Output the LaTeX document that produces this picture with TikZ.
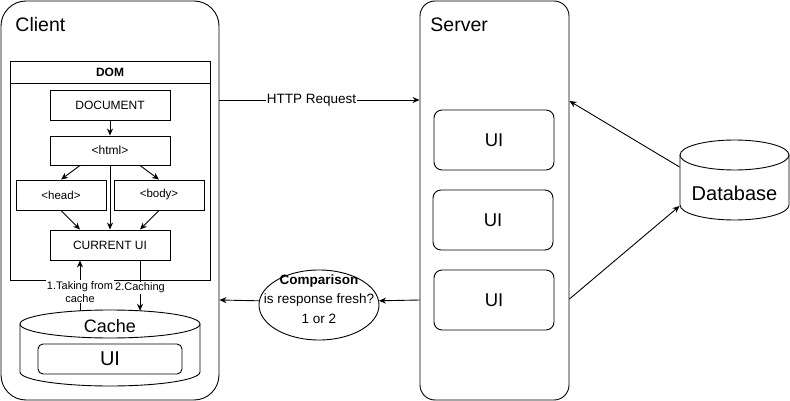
\documentclass[tikz,border=0pt]{standalone}
\usepackage{fontspec}
\setmainfont{Liberation Sans}
\usetikzlibrary{arrows.meta,shapes.geometric}
\tikzset{
  box/.style={draw, rectangle, minimum width=120pt, minimum height=30pt, inner sep=0pt, font=\fontsize{12}{14}\selectfont},
  tagbox/.style={box, minimum width=90pt, font=\fontsize{11.5}{14}\selectfont},
  uibox/.style={draw, rectangle, rounded corners=8pt, minimum width=120pt, minimum height=60pt, inner sep=0pt, font=\fontsize{18.5}{20}\selectfont},
  title/.style={anchor=west, inner sep=0pt, font=\fontsize{19.5}{22}\selectfont},
  arr/.style={-{Stealth[length=7pt,width=6pt]}},
  lbl/.style={fill=white, inner sep=1pt, font=\fontsize{11}{13}\selectfont, align=center},
}
\begin{document}
\begin{tikzpicture}[x=1pt,y=-1pt,line width=0.9pt]
\useasboundingbox (0,0) rectangle (790,401);
% client
\node[draw, rounded corners=25pt, minimum width=218pt, minimum height=399pt] (client) at (110,200.5) {};
\node[title] (clientlbl) at (15,25) {Client};
\node[draw, minimum width=200pt, minimum height=219pt] (dom) at (110,170.5) {};
\node[draw, minimum width=200pt, minimum height=22pt, font=\bfseries\fontsize{12}{14}\selectfont] (domhead) at (110,72) {DOM};
\node[box] (doc) at (110,105) {DOCUMENT};
\node[box, minimum height=29pt] (html) at (110,150.5) {<html>};
\node[tagbox] (head) at (61,195) {<head>};
\node[tagbox] (body) at (159,195) {<body>};
\node[box] (cur) at (110,245) {CURRENT UI};
\draw[arr] (doc) -- (html);
\draw[arr] ([xshift=-30pt]html.south) -- (head.north);
\draw[arr] ([xshift=30pt]html.south) -- (body.north);
\draw[arr] (html) -- (cur);
\draw[arr] (head.south) -- ([xshift=-30pt]cur.north);
\draw[arr] (body.south) -- ([xshift=30pt]cur.north);
% cache
\draw (20,324) -- (20,372) arc[start angle=180, end angle=360, x radius=90pt, y radius=14pt] -- (200,324);
\draw (110,324) ellipse [x radius=90pt, y radius=14pt];
\node[inner sep=0pt, font=\fontsize{18}{20}\selectfont] (cache) at (110,326) {Cache};
\coordinate (cachetop) at (110,310.8);
\node[uibox, rounded corners=5pt, minimum width=144pt, minimum height=30pt, font=\fontsize{20}{22}\selectfont] (cacheui) at (110,359) {UI};
\draw[arr] ([xshift=-30pt]cachetop) -- node[lbl, pos=0.38] {1.Taking from\\cache} ([xshift=-30pt]cur.south);
\draw[arr] ([xshift=30pt]cur.south) -- node[lbl, pos=0.55] {2.Caching} ([xshift=30pt]cachetop);
% server
\node[draw, rounded corners=15pt, minimum width=149pt, minimum height=399pt] (server) at (494.5,200.5) {};
\node[title] (serverlbl) at (430,25) {Server};
\node[uibox] (ui1) at (494,140) {UI};
\node[uibox] (ui2) at (493,220) {UI};
\node[uibox] (ui3) at (494,300) {UI};
% database
\draw (680,155) -- (680,205) arc[start angle=180, end angle=360, x radius=54.5pt, y radius=15pt] -- (789,155);
\draw (734.5,155) ellipse [x radius=54.5pt, y radius=15pt];
\node[minimum width=109pt, minimum height=54pt, inner sep=0pt, font=\fontsize{20}{22}\selectfont] (db) at (734.5,193) {Database};
% requests
\draw[arr] ([yshift=100.5pt]client.east) -- node[fill=white, inner sep=1pt, pos=0.46, font=\fontsize{13.5}{15}\selectfont] {HTTP Request} ([yshift=100.5pt]server.west);
\draw[arr] ([yshift=26pt]db.west) -- ([yshift=99.5pt]server.east);
\draw[arr] ([yshift=-98.5pt]server.east) -- ([yshift=-13pt]db.west);
\node[draw, ellipse, minimum width=120pt, minimum height=70pt, inner sep=0pt] (cmp) at (319,305) {};
\node[align=center, inner sep=0pt, font=\fontsize{13.5}{19.5}\selectfont] (cmptext) at (319,299) {\textbf{Comparison}\\is response fresh?\\1 or 2};
\draw[arr] ([yshift=-99.5pt]server.west) -- (cmp.4);
\draw[arr] (cmp.176) -- ([yshift=-99.5pt]client.east);
\end{tikzpicture}
\end{document}
